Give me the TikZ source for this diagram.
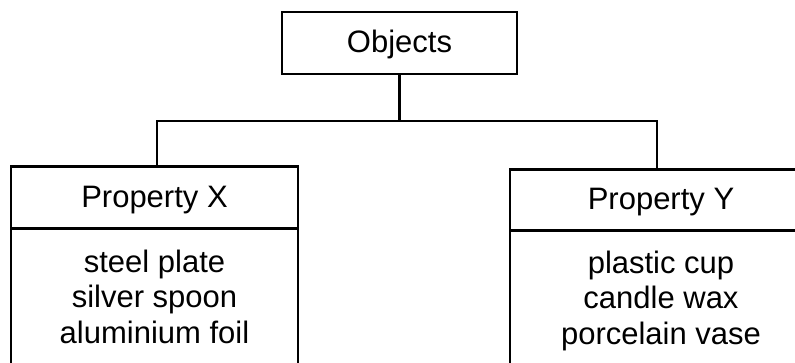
\documentclass[tikz,border=0pt]{standalone}
\usepackage{fontspec}
\setmainfont{Liberation Sans}
\begin{document}
\begin{tikzpicture}[x=1pt,y=1pt,
  box/.style={draw=black,line width=2.2pt,rectangle,inner sep=0pt,outer sep=0pt,
    text height=22pt,text depth=2pt,font=\fontsize{31}{35.5}\selectfont},
  bodybox/.style={draw=black,line width=2.2pt,rectangle,inner sep=0pt,outer sep=0pt,anchor=north},
  items/.style={inner sep=0pt,anchor=north,align=center,font=\fontsize{31}{35.5}\selectfont},
  link/.style={draw=black,line width=2.2pt}]
\useasboundingbox (0,0) rectangle (795,-363);
\clip (0,0) rectangle (795,-363);
\fill[white] (0,0) rectangle (795,-363);
% top node
\node[box,minimum width=235pt,minimum height=62pt] (obj) at (399.5,-43) {Objects};
% left box
\node[box,minimum width=287pt,minimum height=62pt] (lhead) at (154.5,-197.5) {Property X};
\node[bodybox,minimum width=287pt,minimum height=170pt] (lbody) at (lhead.south) {};
\node[items] (ltxt) at (154.5,-249.8) {steel plate\\silver spoon\\aluminium foil};
% right box
\node[box,minimum width=302pt,minimum height=61pt] (rhead) at (661,-200) {Property Y};
\node[bodybox,minimum width=302pt,minimum height=170pt] (rbody) at (rhead.south) {};
\node[items] (rtxt) at (661,-250.8) {plastic cup\\candle wax\\porcelain vase};
% connectors
\coordinate (hub) at (399.5,-120.7);
\coordinate (lj) at (156.7,-120.7);
\coordinate (rj) at (657,-120.7);
\draw[link] (obj.south) -- (hub);
\draw[link,line cap=rect] (lj) -- (rj);
\draw[link] (lj) -- (lj |- lhead.north);
\draw[link] (rj) -- (rj |- rhead.north);
\end{tikzpicture}
\end{document}
